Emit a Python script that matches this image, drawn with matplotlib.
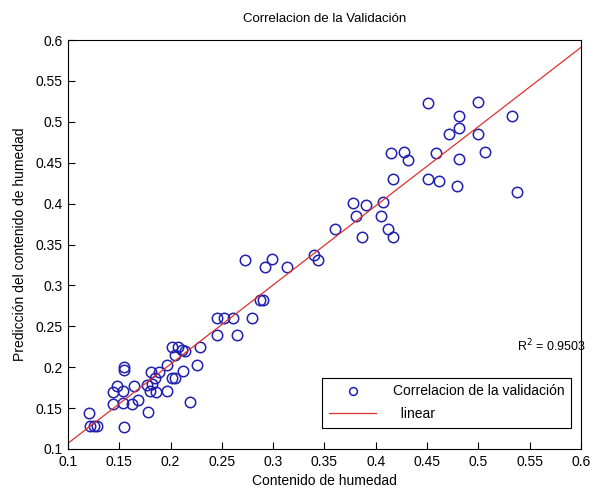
import matplotlib
matplotlib.use("Agg")
import matplotlib.pyplot as plt
import numpy as np

plt.rcParams['font.family'] = ['Liberation Sans', 'DejaVu Sans']

# Measured moisture content (x) and predicted value (y)
contenido = [
    0.1205, 0.1219, 0.1249, 0.1283, 0.1546, 0.1439, 0.1442, 0.1478, 0.1539, 0.1546,
    0.1546, 0.1539, 0.1619, 0.1643, 0.1682, 0.1780, 0.1770, 0.1819, 0.1799, 0.1858,
    0.1809, 0.1887, 0.1848, 0.1965, 0.1965, 0.2011, 0.2043, 0.2011, 0.2075, 0.2111,
    0.2145, 0.2043, 0.2118, 0.2189, 0.2257, 0.2282, 0.2455, 0.2652, 0.2452, 0.2523,
    0.2613, 0.2793, 0.2725, 0.2920, 0.2993, 0.3132, 0.3400, 0.3437, 0.2871, 0.2900,
    0.3602, 0.3870, 0.3807, 0.3775, 0.3900, 0.4048, 0.4068, 0.4117, 0.4172,
    0.4513, 0.4993, 0.5332, 0.4815, 0.4815, 0.4717, 0.4993, 0.4145, 0.4278, 0.4317,
    0.4584, 0.4815, 0.5060, 0.4170, 0.4513, 0.4617, 0.4790, 0.5380,
]
prediccion = [
    0.1440, 0.1281, 0.1281, 0.1281, 0.1275, 0.1550, 0.1697, 0.1770, 0.1703, 0.2002,
    0.1966, 0.1562, 0.1550, 0.1770, 0.1600, 0.1452, 0.1782, 0.1795, 0.1709, 0.1697,
    0.1941, 0.1941, 0.1864, 0.1709, 0.2027, 0.1864, 0.1864, 0.2247, 0.2247, 0.2210,
    0.2198, 0.2149, 0.1954, 0.1575, 0.2027, 0.2247, 0.2394, 0.2394, 0.2598, 0.2601,
    0.2601, 0.2601, 0.3310, 0.3229, 0.3317, 0.3229, 0.3372, 0.3310, 0.2821, 0.2821,
    0.3685, 0.3595, 0.3847, 0.4010, 0.3980, 0.3847, 0.4023, 0.3685, 0.3587,
    0.5225, 0.5237, 0.5066, 0.5069, 0.4927, 0.4846, 0.4846, 0.4613, 0.4633, 0.4532,
    0.4613, 0.4540, 0.4625, 0.4300, 0.4300, 0.4275, 0.4215, 0.4137,
]

# Fitted line coefficients
pendiente = 0.968
intercepto = 0.0102
r2 = 0.9503
x_limits = [0.1, 0.6]
ticks = [0.1, 0.15, 0.2, 0.25, 0.3, 0.35, 0.4, 0.45, 0.5, 0.55, 0.6]
tick_labels = ['0.1', '0.15', '0.2', '0.25', '0.3', '0.35', '0.4', '0.45', '0.5', '0.55', '0.6']

FS = 9.5

fig = plt.figure(figsize=(5.97, 4.93), dpi=100)
ax = fig.add_axes([68/597, 1 - 449/493, (581 - 68)/597, (449 - 40)/493])

ax.plot(contenido, prediccion, linestyle='none', marker='o', markersize=7.5,
        markerfacecolor='none', markeredgecolor='#2020b0', markeredgewidth=1.1,
        label='Correlacion de la validación')
xl = np.array(x_limits)
ax.plot(xl, intercepto + pendiente * xl, color='#e03030', linewidth=0.9,
        label='  linear')

ax.set_xlim(0.1, 0.6)
ax.set_ylim(0.1, 0.6)
ax.set_xticks(ticks)
ax.set_xticklabels(tick_labels)
ax.set_yticks(ticks)
ax.set_yticklabels(tick_labels)
ax.tick_params(direction='in', length=5, labelsize=FS + 0.5, width=0.8, pad=4)
for s in ax.spines.values():
    s.set_linewidth(0.8)

ax.set_title('Correlacion de la Validación', fontsize=FS, pad=13)
ax.set_xlabel('Contenido de humedad', fontsize=FS + 0.5, labelpad=4)
ax.set_ylabel('Predicción del contenido de humedad', fontsize=FS + 0.5, labelpad=6)

ax.text(0.5376, 0.226, r'R$^2$ = %.4f' % r2, fontsize=9, va='center', ha='left')

leg = ax.legend(loc='lower right', bbox_to_anchor=(0.995, 0.035), fontsize=FS + 0.5,
                frameon=True, fancybox=False, edgecolor='black', framealpha=1,
                handlelength=3.4, borderpad=0.5, labelspacing=0.6, handletextpad=1.2,
                markerscale=0.75)
leg.get_frame().set_linewidth(0.8)

fig.savefig('out.png', dpi=100)
